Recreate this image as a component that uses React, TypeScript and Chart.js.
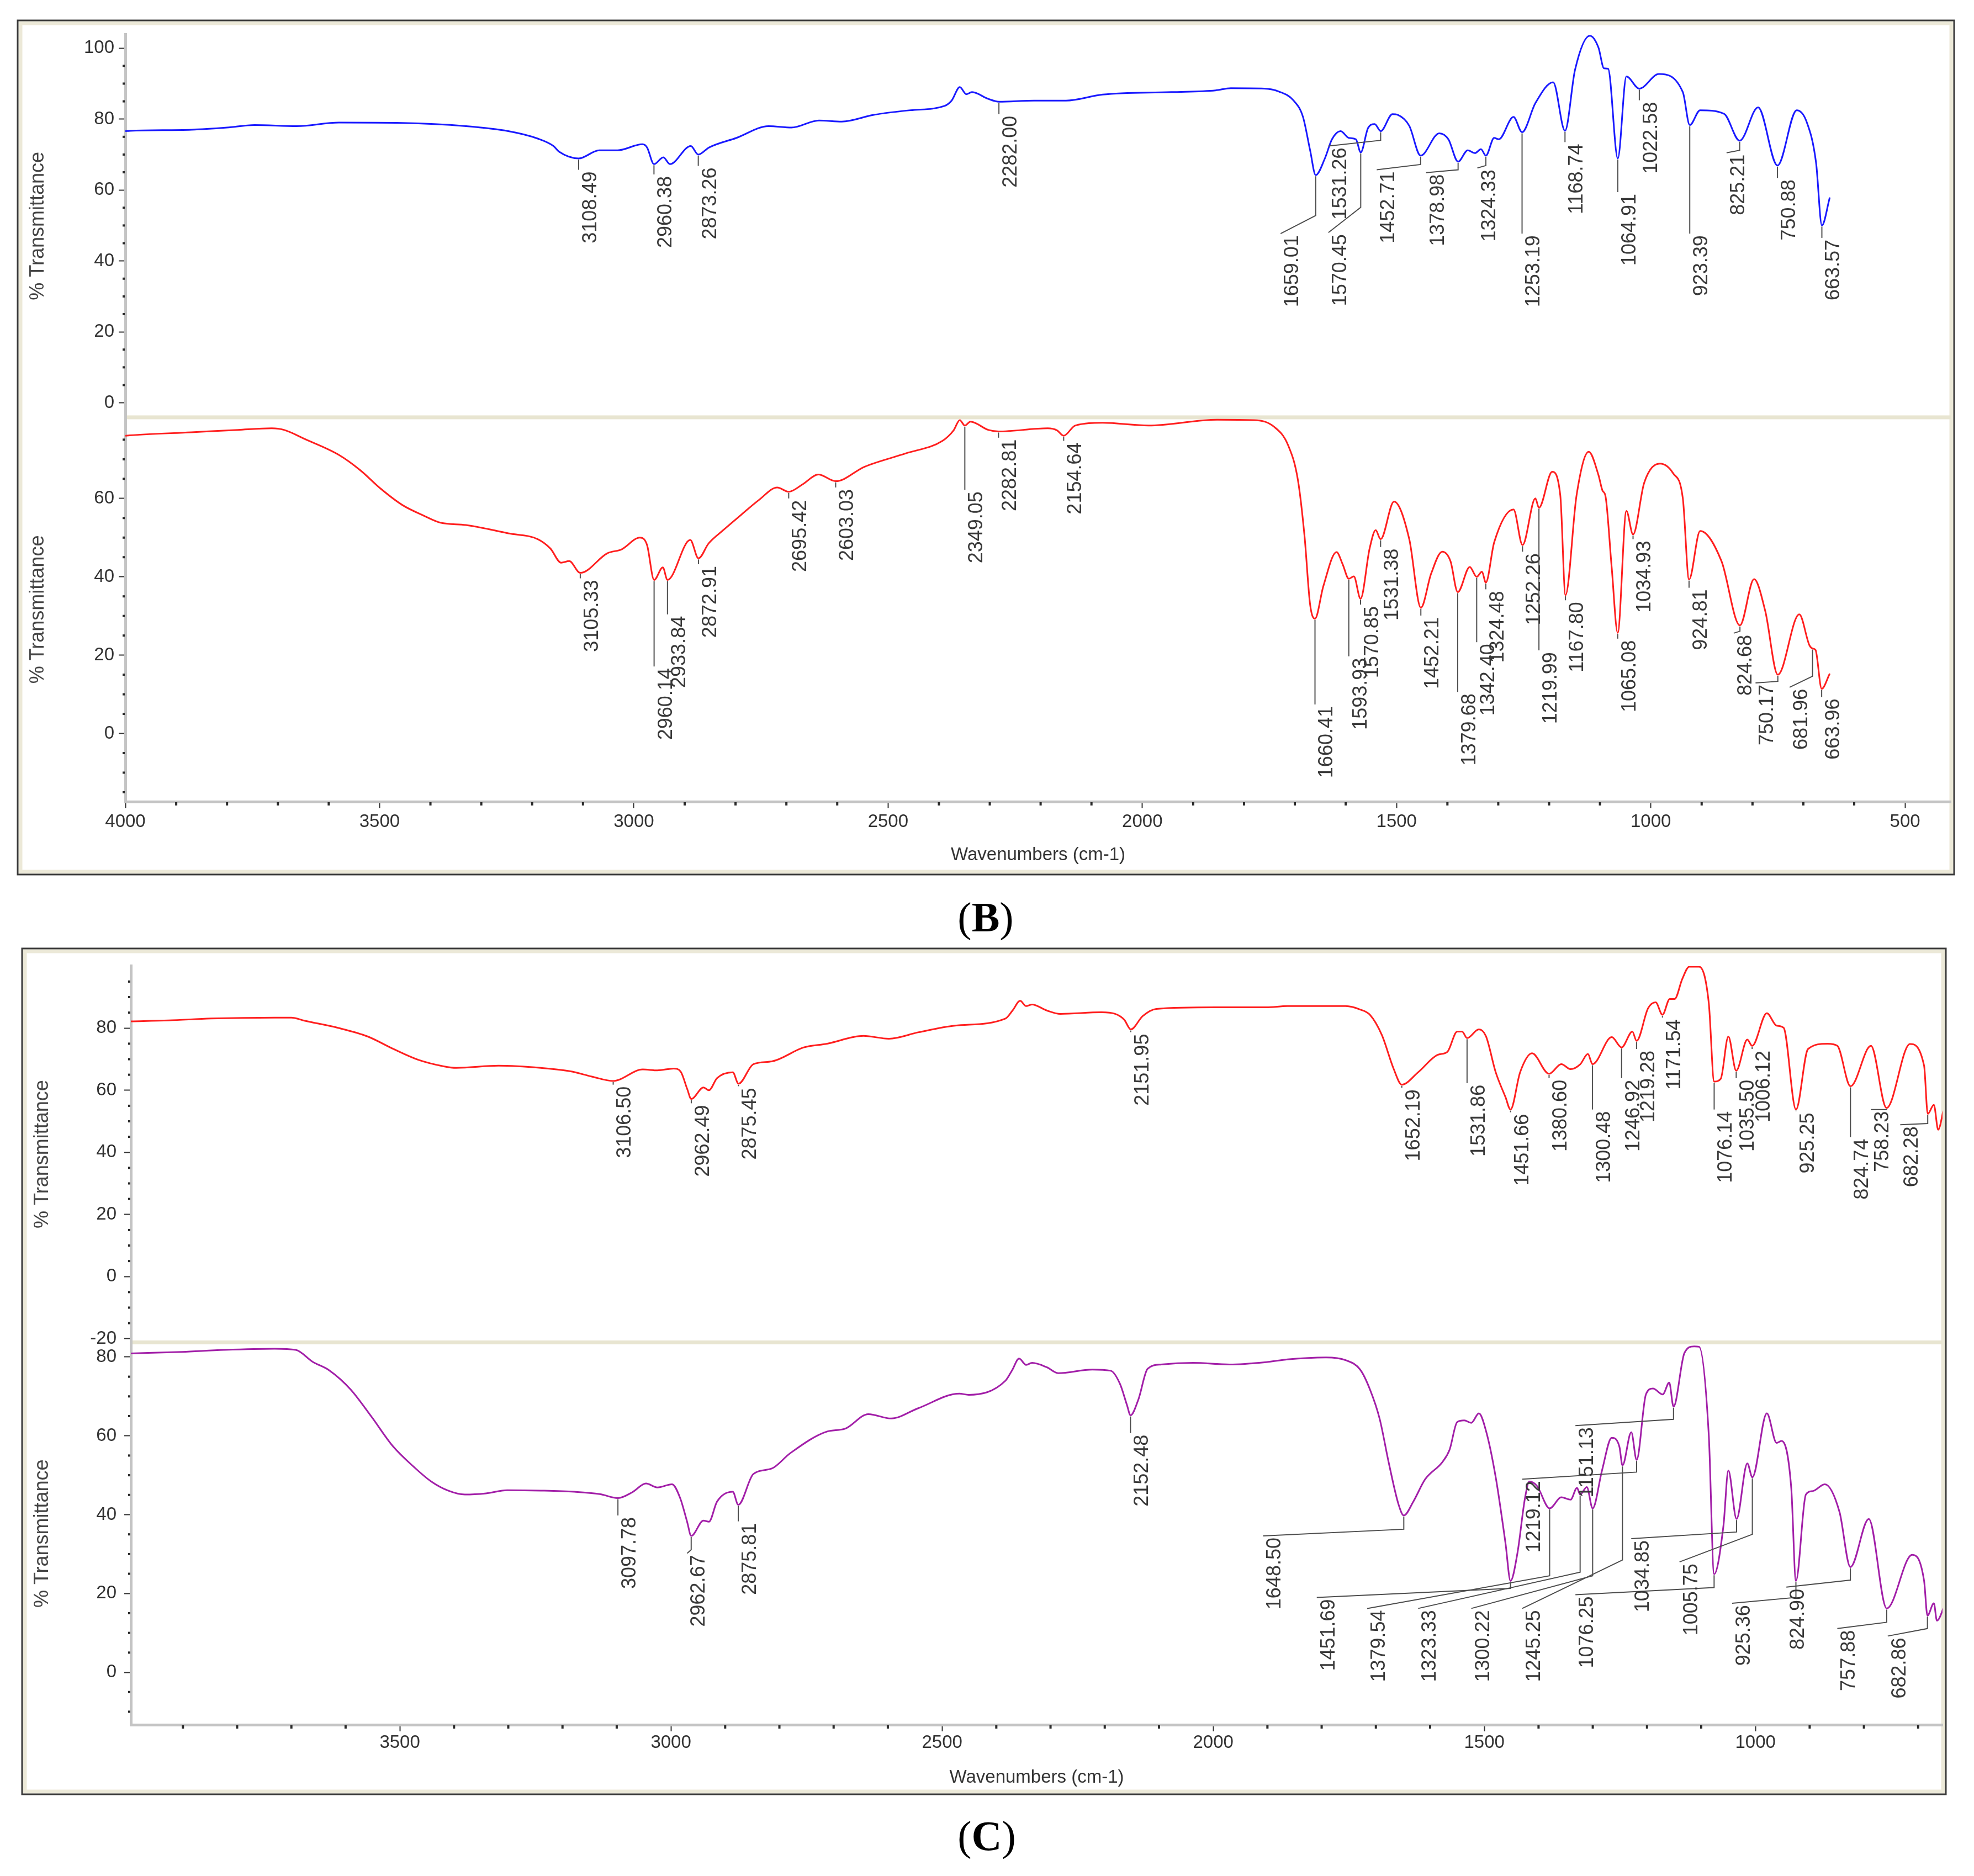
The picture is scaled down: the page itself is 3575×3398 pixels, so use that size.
import React, { useEffect, useRef } from 'react';
import { Chart, registerables } from 'chart.js';

Chart.register(...registerables);

type Pt = [number, number];
type Lbl = { t: string; p: Pt[] };

// ---------------- DATA ----------------
// Panel B, upper spectrum (blue): [wavenumber cm-1, %T]
const B_TOP: Pt[] = [
  [4000, 76.6], [3991, 76.7], [3870, 77.0], [3800, 77.6], [3746, 78.3], [3663, 78.0], [3580, 79.0], [3455, 78.9],
  [3330, 78.0], [3247, 76.6], [3189, 74.5], [3158, 72.4], [3147, 70.8], [3108.49, 68.9], [3068, 71.2], [3032, 71.2],
  [2983, 72.9], [2974, 72.0], [2960.38, 67.3], [2942, 69.2], [2929, 67.3], [2888, 72.4], [2873.26, 70.0], [2852, 72.0],
  [2798, 74.7], [2735, 78.0], [2690, 77.6], [2636, 79.6], [2591, 79.3], [2528, 81.2], [2456, 82.5], [2389, 83.7],
  [2375, 85.2], [2359, 89.0], [2346, 87.0], [2335, 87.6], [2303, 85.7], [2282.0, 84.9], [2213, 85.2], [2150, 85.2],
  [2078, 86.9], [1943, 87.6], [1856, 88.1], [1826, 88.7], [1760, 88.6], [1732, 87.8], [1703, 85.3], [1684, 80.6],
  [1670, 71.2], [1659.01, 64.2], [1641, 68.9], [1627, 74.3], [1610, 76.6], [1594, 74.7], [1580, 74.3], [1570.45, 70.6],
  [1556, 77.5], [1543, 78.6], [1531.26, 76.6], [1508, 81.4], [1498, 81.2], [1475, 78.1], [1452.71, 69.7], [1416, 76.0],
  [1398, 74.3], [1378.98, 68.0], [1360, 71.2], [1346, 70.4], [1334, 71.5], [1324.33, 69.7], [1308, 74.7], [1299, 74.3],
  [1270, 80.6], [1253.19, 76.3], [1227, 84.5], [1192, 90.4], [1168.74, 76.7], [1149, 93.9], [1120, 103.5], [1103, 100.2],
  [1092, 94.3], [1084, 94.2], [1064.91, 68.9], [1048, 92.0], [1022.58, 88.6], [984, 92.7], [937, 87.6], [923.39, 78.3],
  [903, 82.5], [856, 81.5], [825.21, 73.9], [789, 83.3], [750.88, 66.9], [713, 82.5], [694, 79.4], [675, 67.7],
  [663.57, 50.0], [648, 57.9],
];

// Panel B, lower spectrum (red)
const B_BOT: Pt[] = [
  [4000, 76.0], [3991, 76.1], [3870, 76.9], [3779, 77.5], [3712, 77.9], [3688, 77.5], [3646, 75.1], [3580, 71.1],
  [3538, 67.2], [3497, 62.4], [3455, 58.3], [3413, 55.6], [3380, 53.8], [3330, 53.2], [3247, 51.1], [3189, 49.6],
  [3164, 47.2], [3143, 43.6], [3127, 44.0], [3105.33, 41.0], [3052, 46.0], [3024, 47.0], [2988, 50.0], [2974, 48.1],
  [2960.14, 39.2], [2943, 42.4], [2933.84, 39.2], [2889, 49.4], [2872.91, 44.7], [2853, 48.5], [2826, 51.7], [2790, 55.7],
  [2754, 59.6], [2718, 62.8], [2695.42, 61.7], [2668, 63.6], [2637, 66.1], [2603.03, 64.4], [2546, 68.1], [2465, 71.5],
  [2393, 74.7], [2371, 77.4], [2359, 80.0], [2349.05, 78.6], [2338, 79.6], [2303, 77.5], [2282.81, 77.1], [2186, 77.9],
  [2168, 77.4], [2154.64, 76.0], [2132, 78.6], [2078, 79.3], [1988, 78.6], [1853, 80.1], [1780, 80.0], [1741, 78.3],
  [1713, 73.5], [1694, 64.7], [1681, 50.4], [1670, 32.9], [1660.41, 29.3], [1644, 37.6], [1618, 46.3], [1606, 43.2],
  [1593.93, 39.5], [1584, 40.1], [1570.85, 34.4], [1553, 47.2], [1541, 51.9], [1531.38, 49.6], [1505, 59.2], [1475, 49.6],
  [1452.21, 32.1], [1432, 40.8], [1410, 46.4], [1394, 44.0], [1379.68, 36.1], [1356, 42.5], [1342.4, 40.0], [1332, 41.3],
  [1324.48, 38.5], [1308, 48.8], [1270, 57.2], [1252.26, 48.1], [1227, 60.0], [1219.99, 57.6], [1194, 66.8], [1178, 60.8],
  [1167.8, 35.3], [1146, 60.8], [1122, 71.9], [1103, 66.0], [1095, 62.0], [1089, 60.5], [1077, 42.5], [1065.08, 25.7],
  [1048, 56.8], [1034.93, 50.8], [1013, 64.0], [982, 68.9], [956, 66.4], [937, 60.0], [924.81, 39.3], [903, 51.7],
  [861, 44.0], [824.68, 27.6], [797, 39.4], [775, 31.3], [750.17, 15.0], [708, 30.4], [688, 22.5], [681.96, 21.7],
  [676, 21.3], [663.96, 11.4], [648, 15.3],
];

// Panel C, upper spectrum (red)
const C_TOP: Pt[] = [
  [3996, 82.2], [3926, 82.5], [3848, 83.1], [3731, 83.4], [3700, 83.4], [3676, 82.4], [3614, 80.1], [3559, 77.3],
  [3512, 73.3], [3466, 69.8], [3419, 67.7], [3396, 67.2], [3318, 67.9], [3240, 67.2], [3185, 66.1], [3146, 64.4],
  [3106.5, 63.0], [3052, 66.7], [3025, 66.4], [2995, 67.0], [2982, 66.0], [2970, 60.4], [2962.49, 57.2], [2940, 60.9],
  [2930, 60.0], [2915, 63.9], [2886, 65.8], [2875.45, 62.1], [2848, 68.4], [2814, 69.3], [2755, 73.8], [2712, 75.0],
  [2645, 77.5], [2598, 76.6], [2543, 78.7], [2476, 80.8], [2383, 83.1], [2370, 85.7], [2356, 88.8], [2345, 87.1],
  [2334, 87.6], [2307, 85.7], [2282, 84.6], [2206, 85.1], [2181, 84.6], [2164, 82.7], [2151.95, 79.6], [2130, 83.9],
  [2105, 86.2], [1995, 86.7], [1902, 86.7], [1863, 87.1], [1756, 87.1], [1729, 86.0], [1711, 84.3], [1689, 77.8],
  [1667, 66.8], [1652.19, 61.8], [1622, 65.8], [1586, 71.4], [1568, 72.4], [1550, 78.9], [1541, 78.9], [1531.86, 76.8],
  [1510, 79.6], [1497, 77.4], [1479, 65.8], [1461, 57.8], [1451.66, 53.8], [1434, 65.8], [1412, 71.9], [1380.6, 65.3],
  [1358, 68.4], [1341, 66.8], [1323, 68.4], [1309, 71.7], [1300.48, 68.4], [1265, 77.1], [1246.92, 73.8], [1227, 78.9],
  [1219.28, 75.9], [1198, 86.4], [1184, 88.3], [1171.54, 84.3], [1158, 89.4], [1149, 89.4], [1135, 95.8], [1122, 99.8],
  [1104, 99.8], [1086, 88.0], [1076.14, 62.8], [1064, 63.7], [1050, 77.3], [1035.5, 66.3], [1015, 76.3], [1006.12, 74.3],
  [979, 84.8], [961, 80.8], [948, 80.1], [925.25, 53.8], [903, 73.3], [867, 75.0], [849, 74.3], [824.74, 61.3],
  [787, 74.3], [758.23, 54.3], [715, 74.9], [689, 67.9], [682.28, 52.4], [671, 55.3], [663, 47.3], [653, 53.8],
];

// Panel C, lower spectrum (purple)
const C_BOT: Pt[] = [
  [3996, 80.9], [3902, 81.3], [3824, 81.8], [3731, 82.1], [3692, 81.8], [3661, 78.8], [3630, 76.6], [3591, 71.8],
  [3552, 64.8], [3513, 57.4], [3474, 52.1], [3442, 48.4], [3411, 46.1], [3380, 45.1], [3341, 45.4], [3302, 46.2],
  [3240, 46.1], [3178, 45.8], [3131, 45.2], [3097.78, 44.2], [3071, 45.7], [3046, 47.9], [3025, 46.9], [2998, 47.7],
  [2983, 44.2], [2970, 38.1], [2962.67, 34.6], [2940, 38.5], [2930, 38.2], [2915, 43.3], [2886, 45.8], [2875.81, 42.5],
  [2848, 50.3], [2814, 51.7], [2780, 55.6], [2712, 61.1], [2679, 61.8], [2636, 65.5], [2594, 64.4], [2544, 67.0],
  [2468, 70.7], [2451, 70.4], [2383, 74.0], [2371, 76.6], [2358, 79.6], [2345, 78.0], [2334, 78.5], [2307, 77.4],
  [2286, 75.9], [2223, 76.8], [2189, 76.5], [2172, 73.2], [2159, 67.8], [2152.48, 65.2], [2138, 69.2], [2121, 77.0],
  [2096, 78.1], [2037, 78.5], [1970, 78.1], [1902, 78.7], [1863, 79.4], [1792, 79.9], [1756, 79.2], [1729, 76.8],
  [1711, 71.8], [1693, 64.3], [1676, 53.0], [1658, 42.5], [1648.5, 39.8], [1631, 43.3], [1609, 49.0], [1577, 53.4],
  [1564, 56.5], [1550, 63.5], [1537, 63.9], [1524, 63.3], [1510, 65.7], [1497, 61.3], [1479, 49.5], [1461, 32.8],
  [1451.69, 23.2], [1439, 30.2], [1425, 44.2], [1417, 48.4], [1403, 47.3], [1379.54, 41.6], [1358, 44.4], [1341, 43.8],
  [1329, 46.8], [1323.33, 45.1], [1311, 47.0], [1300.22, 41.6], [1283, 51.2], [1265, 59.5], [1251, 57.3], [1245.25, 52.5],
  [1229, 60.9], [1219.12, 53.9], [1202, 70.5], [1189, 72.0], [1171, 70.5], [1159, 73.5], [1151.13, 67.4], [1131, 81.0],
  [1113, 82.7], [1104, 82.6], [1086, 60.0], [1076.25, 24.9], [1059, 37.2], [1050, 51.2], [1034.85, 38.9], [1015, 53.0],
  [1005.75, 49.5], [979, 65.7], [961, 58.2], [952, 58.7], [934, 46.8], [925.36, 23.2], [907, 45.1], [894, 46.0],
  [872, 47.7], [845, 40.7], [824.9, 26.7], [791, 38.9], [757.88, 16.2], [711, 29.8], [689, 23.2], [682.86, 14.4],
  [671, 17.5], [665.3, 13.1], [650, 17.5],
];

// Tick values
const B_X_TICKS = [4000, 3500, 3000, 2500, 2000, 1500, 1000, 500];
const C_X_TICKS = [3500, 3000, 2500, 2000, 1500, 1000];
const B_TOP_Y_TICKS = [100, 80, 60, 40, 20, 0];
const B_BOT_Y_TICKS = [60, 40, 20, 0];
const C_TOP_Y_TICKS = [80, 60, 40, 20, 0, -20];
const C_BOT_Y_TICKS = [80, 60, 40, 20, 0];

// Peak annotations: text (= peak wavenumber) and leader path (in data units of that sub-plot)
const B_TOP_PEAKS: Lbl[] = [
  { t: '3108.49', p: [[3108.49, 65.7]] },
  { t: '2960.38', p: [[2960.38, 64.4]] },
  { t: '2873.26', p: [[2873.26, 66.8]] },
  { t: '2282.00', p: [[2282.0, 81.4]] },
  { t: '1659.01', p: [[1659.01, 52.8], [1728, 47.7]] },
  { t: '1570.45', p: [[1570.45, 55.1], [1634, 48.0]] },
  { t: '1531.26', p: [[1531.26, 74.0], [1634, 72.4]] },
  { t: '1452.71', p: [[1452.71, 67.2], [1539, 65.7]] },
  { t: '1378.98', p: [[1378.98, 65.7], [1442, 64.9]] },
  { t: '1324.33', p: [[1324.33, 66.9], [1341, 66.2]] },
  { t: '1253.19', p: [[1253.19, 47.7]] },
  { t: '1168.74', p: [[1168.74, 73.5]] },
  { t: '1064.91', p: [[1064.91, 59.4]] },
  { t: '1022.58', p: [[1022.58, 85.3]] },
  { t: '923.39', p: [[923.39, 47.7]] },
  { t: '825.21', p: [[825.21, 71.2], [851, 70.5]] },
  { t: '750.88', p: [[750.88, 63.4]] },
  { t: '663.57', p: [[663.57, 46.5]] },
];

const B_BOT_PEAKS: Lbl[] = [
  { t: '3105.33', p: [[3105.33, 39.6]] },
  { t: '2960.14', p: [[2960.14, 17.1]] },
  { t: '2933.84', p: [[2933.84, 30.4]] },
  { t: '2872.91', p: [[2872.91, 43.2]] },
  { t: '2695.42', p: [[2695.42, 60.0]] },
  { t: '2603.03', p: [[2603.03, 62.8]] },
  { t: '2349.05', p: [[2349.05, 62.2]] },
  { t: '2282.81', p: [[2282.81, 75.5]] },
  { t: '2154.64', p: [[2154.64, 74.7]] },
  { t: '1660.41', p: [[1660.41, 7.4]] },
  { t: '1593.93', p: [[1593.93, 19.7]] },
  { t: '1570.85', p: [[1570.85, 32.9]] },
  { t: '1531.38', p: [[1531.38, 47.6]] },
  { t: '1452.21', p: [[1452.21, 30.1]] },
  { t: '1379.68', p: [[1379.68, 10.6]] },
  { t: '1342.40', p: [[1342.4, 23.3]] },
  { t: '1324.48', p: [[1324.48, 36.8]] },
  { t: '1252.26', p: [[1252.26, 46.4]] },
  { t: '1219.99', p: [[1219.99, 21.2]] },
  { t: '1167.80', p: [[1167.8, 34.0]] },
  { t: '1065.08', p: [[1065.08, 24.2]] },
  { t: '1034.93', p: [[1034.93, 49.6]] },
  { t: '924.81', p: [[924.81, 37.2]] },
  { t: '824.68', p: [[824.68, 26.1], [837, 25.6]] },
  { t: '750.17', p: [[750.17, 13.3], [794, 12.9]] },
  { t: '681.96', p: [[681.96, 14.6], [727, 11.8]] },
  { t: '663.96', p: [[663.96, 9.3]] },
];

const C_TOP_PEAKS: Lbl[] = [
  { t: '3106.50', p: [[3106.5, 61.8]] },
  { t: '2962.49', p: [[2962.49, 55.8]] },
  { t: '2875.45', p: [[2875.45, 61.3]] },
  { t: '2151.95', p: [[2151.95, 78.7]] },
  { t: '1652.19', p: [[1652.19, 60.8]] },
  { t: '1531.86', p: [[1531.86, 62.3]] },
  { t: '1451.66', p: [[1451.66, 52.9]] },
  { t: '1380.60', p: [[1380.6, 63.9]] },
  { t: '1300.48', p: [[1300.48, 53.8]] },
  { t: '1246.92', p: [[1246.92, 63.9]] },
  { t: '1219.28', p: [[1219.28, 73.3]] },
  { t: '1171.54', p: [[1171.54, 83.4]] },
  { t: '1076.14', p: [[1076.14, 53.8]] },
  { t: '1035.50', p: [[1035.5, 63.9]] },
  { t: '1006.12', p: [[1006.12, 73.3]] },
  { t: '925.25', p: [[925.25, 53.3]] },
  { t: '824.74', p: [[824.74, 44.9]] },
  { t: '758.23', p: [[758.23, 53.8], [787, 53.8]] },
  { t: '682.28', p: [[682.28, 49.3], [733, 48.9]] },
];

const C_BOT_PEAKS: Lbl[] = [
  { t: '3097.78', p: [[3097.78, 39.8]] },
  { t: '2962.67', p: [[2962.67, 31.1], [2970, 30.2]] },
  { t: '2875.81', p: [[2875.81, 38.3]] },
  { t: '2152.48', p: [[2152.48, 60.7]] },
  { t: '1648.50', p: [[1648.5, 36.3], [1908, 34.6]] },
  { t: '1451.69', p: [[1451.69, 21.3], [1809, 19.0]] },
  { t: '1379.54', p: [[1379.54, 24.5], [1716, 16.2]] },
  { t: '1323.33', p: [[1323.33, 25.4], [1622, 16.2]] },
  { t: '1300.22', p: [[1300.22, 24.5], [1524, 16.2]] },
  { t: '1245.25', p: [[1245.25, 28.5], [1430, 16.2]] },
  { t: '1219.12', p: [[1219.12, 50.8], [1430, 49.0]] },
  { t: '1151.13', p: [[1151.13, 64.2], [1332, 62.6]] },
  { t: '1076.25', p: [[1076.25, 21.5], [1332, 19.7]] },
  { t: '1034.85', p: [[1034.85, 35.6], [1229, 33.9]] },
  { t: '1005.75', p: [[1005.75, 35.0], [1140, 28.0]] },
  { t: '925.36', p: [[925.36, 19.0], [1043, 17.5]] },
  { t: '824.90', p: [[824.9, 23.4], [943, 21.6]] },
  { t: '757.88', p: [[757.88, 12.7], [849, 11.1]] },
  { t: '682.86', p: [[682.86, 11.1], [756, 9.2]] },
];

// ---------------- STYLE / LAYOUT ----------------
const SANS = '"Liberation Sans", Arial, Helvetica, sans-serif';
const SERIF = '"Liberation Serif", "Times New Roman", Times, serif';

type Sub = { data: Pt[]; color: string; min: number; max: number; ticks: number[]; px: number; labels: Lbl[] };
type PanelSpec = {
  key: string;
  x: number; y: number; w: number; h: number;
  frame: { l: number; t: number; r: number; b: number };
  pad: { left: number; top: number; right: number; bottom: number };
  xMin: number; xMax: number; xTicks: number[];
  xAxisH: number; xTickPad: number; xTitlePad: number;
  yAxisW: number; yTickPad: number; yTitlePad: number;
  top: Sub; bot: Sub;
};

const PANEL_B: PanelSpec = {
  key: 'B',
  x: 30, y: 35, w: 3512, h: 1552,
  frame: { l: 2, t: 2, r: 3509, b: 1549 },
  pad: { left: 8, top: 8, right: 9, bottom: 5 },
  xMin: 410, xMax: 4000, xTicks: B_X_TICKS,
  xAxisH: 130, xTickPad: 5, xTitlePad: 13,
  yAxisW: 189, yTickPad: 8, yTitlePad: 9,
  top: { data: B_TOP, color: '#1a1aff', min: -4.1, max: 103.8, ticks: B_TOP_Y_TICKS, px: 703, labels: B_TOP_PEAKS },
  bot: { data: B_BOT, color: '#ff1f1f', min: -17.4, max: 80.7, ticks: B_BOT_Y_TICKS, px: 706, labels: B_BOT_PEAKS },
};

const PANEL_C: PanelSpec = {
  key: 'C',
  x: 38, y: 1716, w: 3490, h: 1537,
  frame: { l: 2, t: 2, r: 3486, b: 1534 },
  pad: { left: 8, top: 9, right: 10, bottom: 5 },
  xMin: 655, xMax: 3996, xTicks: C_X_TICKS,
  xAxisH: 124, xTickPad: 1, xTitlePad: 8,
  yAxisW: 191, yTickPad: 14, yTitlePad: 9,
  top: { data: C_TOP, color: '#ff1f1f', min: -21.2, max: 100, ticks: C_TOP_Y_TICKS, px: 694, labels: C_TOP_PEAKS },
  bot: { data: C_BOT, color: '#a21fa8', min: -13.3, max: 83.7, ticks: C_BOT_Y_TICKS, px: 705, labels: C_BOT_PEAKS },
};

function valueAt(data: Pt[], x: number): number {
  for (let i = 0; i < data.length - 1; i++) {
    const [x0, y0] = data[i];
    const [x1, y1] = data[i + 1];
    if ((x <= x0 && x >= x1) || (x >= x0 && x <= x1)) {
      if (x0 === x1) return y0;
      return y0 + ((y1 - y0) * (x - x0)) / (x1 - x0);
    }
  }
  return data[data.length - 1][1];
}

function makeDeco(spec: PanelSpec) {
  const drawLabels = (chart: any, sub: Sub, yid: string) => {
    const ctx = chart.ctx;
    const xs = chart.scales.x;
    const ys = chart.scales[yid];
    ctx.save();
    ctx.strokeStyle = '#4d4d4d';
    ctx.lineWidth = 2;
    ctx.fillStyle = '#383838';
    ctx.font = `36px ${SANS}`;
    ctx.textAlign = 'right';
    ctx.textBaseline = 'middle';
    for (const L of sub.labels) {
      const pk = parseFloat(L.t);
      const x0 = xs.getPixelForValue(pk);
      const y0 = ys.getPixelForValue(valueAt(sub.data, pk)) + 2;
      ctx.beginPath();
      ctx.moveTo(x0, y0);
      let ex = x0;
      let ey = y0;
      for (const [wx, wy] of L.p) {
        ex = xs.getPixelForValue(wx);
        ey = ys.getPixelForValue(wy);
        ctx.lineTo(ex, ey);
      }
      ctx.stroke();
      ctx.save();
      ctx.translate(ex + 22, ey + 3);
      ctx.rotate(-Math.PI / 2);
      ctx.fillText(L.t, 0, 0);
      ctx.restore();
    }
    ctx.restore();
  };

  return {
    id: 'deco' + spec.key,
    beforeDraw(chart: any) {
      const ctx = chart.ctx;
      const f = spec.frame;
      ctx.save();
      ctx.fillStyle = '#ffffff';
      ctx.fillRect(0, 0, chart.width, chart.height);
      ctx.strokeStyle = '#ece9d8';
      ctx.lineWidth = 7;
      ctx.strokeRect(f.l + 5, f.t + 5, f.r - f.l - 10, f.b - f.t - 10);
      ctx.strokeStyle = '#3a3a3a';
      ctx.lineWidth = 3;
      ctx.strokeRect(f.l, f.t, f.r - f.l, f.b - f.t);
      ctx.restore();
    },
    beforeDatasetsDraw(chart: any) {
      const ctx = chart.ctx;
      const ca = chart.chartArea;
      const yb = chart.scales.yBot;
      ctx.save();
      ctx.fillStyle = '#e8e5d1';
      ctx.fillRect(ca.left + 3, yb.top - 3.5, ca.right - ca.left - 3, 7);
      ctx.restore();
    },
    afterDatasetsDraw(chart: any) {
      drawLabels(chart, spec.top, 'yTop');
      drawLabels(chart, spec.bot, 'yBot');
    },
    afterDraw(chart: any) {
      const ctx = chart.ctx;
      const xs = chart.scales.x;
      ctx.save();
      ctx.fillStyle = '#2a2a2a';
      const x0 = Math.ceil(spec.xMin / 100) * 100;
      for (let v = x0; v <= spec.xMax; v += 100) {
        if (v % 500 === 0) continue;
        const px = xs.getPixelForValue(v);
        ctx.fillRect(px - 2, xs.top + 1, 4, 6);
      }
      for (const id of ['yTop', 'yBot']) {
        const ys = chart.scales[id];
        const sub = id === 'yTop' ? spec.top : spec.bot;
        const y0 = Math.ceil(sub.min / 5) * 5;
        for (let v = y0; v <= sub.max; v += 5) {
          if (v % 20 === 0) continue;
          const py = ys.getPixelForValue(v);
          ctx.fillRect(ys.right - 5, py - 2, 4, 4);
        }
      }
      ctx.restore();
    },
  };
}

function yScale(spec: PanelSpec, sub: Sub, weight: number) {
  return {
    type: 'linear',
    position: 'left',
    stack: 'panel' + spec.key,
    stackWeight: sub.px,
    weight,
    min: sub.min,
    max: sub.max,
    afterBuildTicks: (s: any) => {
      s.ticks = sub.ticks.map((v) => ({ value: v }));
    },
    afterFit: (s: any) => {
      s.width = spec.yAxisW;
    },
    ticks: {
      autoSkip: false,
      font: { family: SANS, size: 33 },
      color: '#333333',
      padding: spec.yTickPad,
      callback: (v: any) => String(v),
    },
    grid: { display: true, drawOnChartArea: false, drawTicks: true, tickLength: 12, tickColor: '#333333', tickWidth: 2 },
    border: { display: true, color: '#c4c4c4', width: 5 },
    title: {
      display: true,
      text: '% Transmittance',
      font: { family: SANS, size: 36 },
      color: '#444444',
      padding: { top: spec.yTitlePad, bottom: 0 },
    },
  };
}

function buildConfig(spec: PanelSpec): any {
  const ds = (sub: Sub, yid: string) => ({
    data: sub.data.map(([x, y]) => ({ x, y })),
    yAxisID: yid,
    xAxisID: 'x',
    borderColor: sub.color,
    borderWidth: 3,
    pointRadius: 0,
    fill: false,
    cubicInterpolationMode: 'monotone',
  });
  return {
    type: 'line',
    data: { datasets: [ds(spec.top, 'yTop'), ds(spec.bot, 'yBot')] },
    options: {
      animation: false,
      responsive: false,
      devicePixelRatio: 1,
      events: [],
      layout: { padding: spec.pad, autoPadding: false },
      plugins: { legend: { display: false }, tooltip: { enabled: false }, title: { display: false } },
      scales: {
        x: {
          type: 'linear',
          position: 'bottom',
          reverse: true,
          min: spec.xMin,
          max: spec.xMax,
          afterBuildTicks: (s: any) => {
            s.ticks = spec.xTicks.map((v) => ({ value: v }));
          },
          afterFit: (s: any) => {
            s.height = spec.xAxisH;
          },
          ticks: {
            autoSkip: false,
            maxRotation: 0,
            minRotation: 0,
            font: { family: SANS, size: 33 },
            color: '#333333',
            padding: spec.xTickPad,
            callback: (v: any) => String(v),
          },
          grid: { display: true, drawOnChartArea: false, drawTicks: true, tickLength: 12, tickColor: '#333333', tickWidth: 2 },
          border: { display: true, color: '#c4c4c4', width: 5 },
          title: {
            display: true,
            text: 'Wavenumbers (cm-1)',
            font: { family: SANS, size: 33 },
            color: '#333333',
            padding: { top: 0, bottom: spec.xTitlePad },
          },
        },
        yTop: yScale(spec, spec.top, 2),
        yBot: yScale(spec, spec.bot, 1),
      },
    },
    plugins: [makeDeco(spec)],
  };
}

function Panel({ spec }: { spec: PanelSpec }) {
  const ref = useRef<HTMLCanvasElement | null>(null);
  useEffect(() => {
    const canvas = ref.current;
    if (!canvas) return;
    const chart = new Chart(canvas, buildConfig(spec));
    return () => chart.destroy();
  }, [spec]);
  return (
    <canvas
      ref={ref}
      width={spec.w}
      height={spec.h}
      style={{ position: 'absolute', left: spec.x, top: spec.y, width: spec.w, height: spec.h, display: 'block' }}
    />
  );
}

function Caption({ cx, cy, letter }: { cx: number; cy: number; letter: string }) {
  return (
    <div
      style={{
        position: 'absolute',
        left: cx - 150,
        top: cy - 39,
        width: 300,
        textAlign: 'center',
        fontFamily: SERIF,
        fontSize: 76,
        lineHeight: '76px',
        color: '#000',
      }}
    >
      (<b>{letter}</b>)
    </div>
  );
}

export default function App() {
  return (
    <div style={{ position: 'absolute', left: 0, top: 0, width: 3575, height: 3398, background: '#ffffff', overflow: 'hidden' }}>
      <Panel spec={PANEL_B} />
      <Caption cx={1785} cy={1662} letter="B" />
      <Panel spec={PANEL_C} />
      <Caption cx={1787} cy={3326} letter="C" />
    </div>
  );
}
